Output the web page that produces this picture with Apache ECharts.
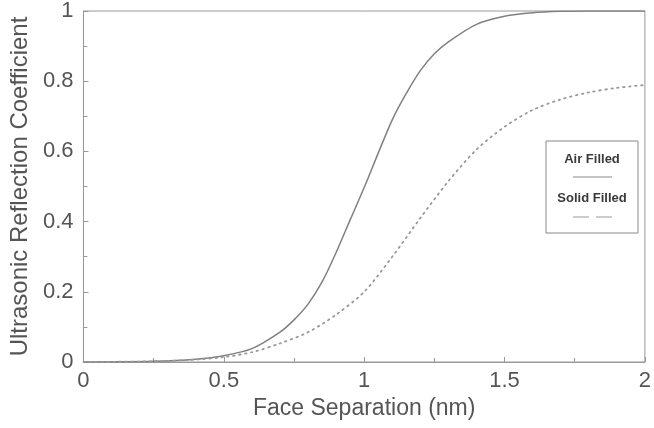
<!DOCTYPE html>
<html>
<head>
<meta charset="utf-8">
<script src="https://cdn.jsdelivr.net/npm/echarts@6/dist/echarts.min.js"></script>
<style>html,body{margin:0;padding:0;background:#fff}#c{width:654px;height:428px}</style>
</head>
<body>
<div id="c"></div>
<script>
var xTicks = ['0', '0.5', '1', '1.5', '2'];
var yTicks = ['0', '0.2', '0.4', '0.6', '0.8', '1'];

var airX = [0, 0.25, 0.4, 0.5, 0.6, 0.7, 0.75, 0.8, 0.85, 0.9, 0.95, 1.0, 1.05, 1.1, 1.15, 1.2, 1.25, 1.3, 1.4, 1.5, 1.6, 1.7, 1.8, 2.0];
var airY = [0, 0.002, 0.008, 0.018, 0.038, 0.085, 0.12, 0.165, 0.228, 0.312, 0.405, 0.497, 0.595, 0.69, 0.765, 0.83, 0.878, 0.912, 0.962, 0.985, 0.995, 0.999, 1.0, 1.0];

var solidX = [0, 0.25, 0.4, 0.5, 0.6, 0.7, 0.8, 0.9, 1.0, 1.1, 1.2, 1.3, 1.4, 1.5, 1.6, 1.7, 1.8, 1.9, 2.0];
var solidY = [0, 0.002, 0.007, 0.014, 0.028, 0.053, 0.085, 0.135, 0.2, 0.3, 0.41, 0.515, 0.605, 0.67, 0.718, 0.748, 0.768, 0.781, 0.789];

function pairs(xs, ys) { return xs.map(function (x, i) { return [x, ys[i]]; }); }

var chart = echarts.init(document.getElementById('c'), null, { renderer: 'canvas' });
var axisCol = '#999';
var textCol = '#555';
chart.setOption({
  animation: false,
  grid: { left: 81, right: 4, top: 11, bottom: 66, show: true, borderColor: axisCol, borderWidth: 1, backgroundColor: 'transparent' },
  xAxis: {
    type: 'value', min: 0, max: 2, interval: 0.5,
    name: 'Face Separation (nm)', nameLocation: 'middle', nameGap: 34,
    nameTextStyle: { fontFamily: 'Liberation Sans, Arial', fontSize: 23, color: textCol },
    axisLine: { show: true, onZero: false, lineStyle: { color: axisCol, width: 1 } },
    axisTick: { show: true, inside: true, length: 5, lineStyle: { color: axisCol } },
    minorTick: { show: true, splitNumber: 2, length: 4, lineStyle: { color: axisCol } },
    splitLine: { show: false },
    axisLabel: { fontFamily: 'Liberation Sans, Arial', fontSize: 22, color: textCol, margin: 8,
      formatter: function (v) { var i = Math.round(v / 0.5); return xTicks[i] !== undefined ? xTicks[i] : ''; } }
  },
  yAxis: {
    type: 'value', min: 0, max: 1, interval: 0.2,
    name: 'Ultrasonic Reflection Coefficient', nameLocation: 'middle', nameGap: 49,
    nameTextStyle: { fontFamily: 'Liberation Sans, Arial', fontSize: 24, color: textCol },
    axisLine: { show: true, onZero: false, lineStyle: { color: axisCol, width: 1 } },
    axisTick: { show: true, inside: true, length: 5, lineStyle: { color: axisCol } },
    minorTick: { show: true, splitNumber: 2, length: 4, lineStyle: { color: axisCol } },
    splitLine: { show: false },
    axisLabel: { fontFamily: 'Liberation Sans, Arial', fontSize: 22, color: textCol, margin: 10,
      formatter: function (v) { var i = Math.round(v / 0.2); return yTicks[i] !== undefined ? yTicks[i] : ''; } }
  },
  series: [
    { name: 'Air Filled', type: 'line', data: pairs(airX, airY), smooth: 0.3, showSymbol: false,
      lineStyle: { color: '#808080', width: 1.5 } },
    { name: 'Solid Filled', type: 'line', data: pairs(solidX, solidY), smooth: 0.3, showSymbol: false,
      lineStyle: { color: '#999', width: 1.8, type: [1.5, 4.5], cap: 'round' } }
  ],
  graphic: [
    { type: 'rect', shape: { x: 546, y: 141, width: 92, height: 92 }, style: { fill: '#fff', stroke: '#888', lineWidth: 1 } },
    { type: 'text', x: 592, y: 159, style: { text: 'Air Filled', fill: '#3a3a3a', font: 'bold 13px Liberation Sans, Arial', align: 'center', verticalAlign: 'middle' } },
    { type: 'line', shape: { x1: 573, y1: 177, x2: 612, y2: 177 }, style: { stroke: '#888', lineWidth: 1.2 } },
    { type: 'text', x: 592, y: 198, style: { text: 'Solid Filled', fill: '#3a3a3a', font: 'bold 13px Liberation Sans, Arial', align: 'center', verticalAlign: 'middle' } },
    { type: 'line', shape: { x1: 573, y1: 217, x2: 612, y2: 217 }, style: { stroke: '#999', lineWidth: 1.2, lineDash: [16, 7] } }
  ]
});
</script>
</body>
</html>
